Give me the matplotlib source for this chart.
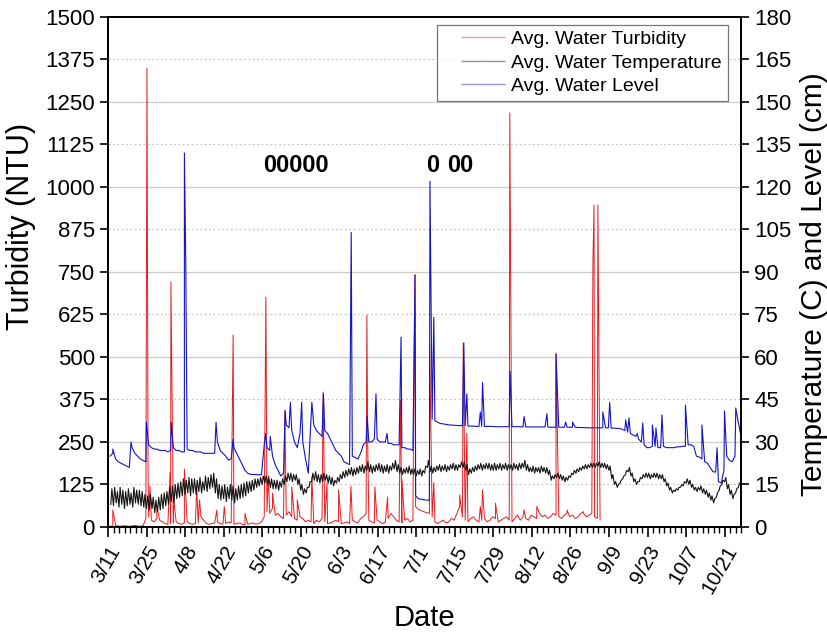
import numpy as np
import pandas as pd
import matplotlib
matplotlib.use("Agg")
import matplotlib.pyplot as plt
from matplotlib.lines import Line2D
from matplotlib.ticker import MultipleLocator

plt.rcParams['font.family'] = ['Liberation Sans', 'DejaVu Sans']

axis_start = pd.Timestamp('2019-03-11')
obs_start = pd.Timestamp('2019-03-11 18:00')
tick_labels = ['3/11', '3/25', '4/8', '4/22', '5/6', '5/20', '6/3', '6/17', '7/1',
               '7/15', '7/29', '8/12', '8/26', '9/9', '9/23', '10/7', '10/21']

# daily water level (cm), one value per day
level_base = [
    25, 26, 24, 23, 22.5, 22, 21.5, 21, 28, 26,
    25, 24, 23.5, 23, 29, 28, 27.5, 27.5, 27, 27,
    27, 26.5, 27, 28, 27, 27, 26.5, 26.5, 27.5, 27,
    27, 26.5, 26.5, 26.5, 26, 26, 26, 26, 26, 30,
    27, 26, 25, 23.6, 24, 28, 26, 24, 22, 20,
    19, 18.6, 18.5, 18.5, 18.4, 18.5, 29, 28, 27, 25,
    22, 20, 18, 19, 36, 35, 34, 30, 28, 33,
    30, 24, 19, 38, 36, 34, 33, 32, 34, 33,
    31, 29, 27, 26, 25, 23, 22.5, 22, 25, 24.5,
    24, 26, 29, 30, 30, 30, 31, 31, 30, 30,
    30, 29.5, 29.5, 29, 29, 29, 28, 28, 27.5, 27.5,
    27, 11, 10, 9.8, 9.6, 9.5, 9.4, 38, 37.5, 37,
    36.5, 36.4, 36.2, 36, 36, 35.9, 35.8, 35.8, 35.7, 35.7,
    35.6, 35.6, 35.6, 35.5, 35.5, 35.5, 35.5, 35.5, 35.5, 35.5,
    35.4, 35.4, 35.4, 35.4, 35.4, 35.4, 35.4, 35.4, 35.4, 35.4,
    35.3, 35.3, 35.3, 35.3, 35.3, 35.3, 35.3, 35.3, 35.3, 35.3,
    35.2, 35.2, 35.2, 35.2, 35.2, 35.2, 35.2, 35.2, 35.2, 35.2,
    35.1, 35.1, 35.1, 35, 35, 35, 35, 35, 35, 35,
    35, 35, 34.9, 34.9, 34.8, 34.8, 34.5, 34, 33.5, 33,
    32.5, 32, 31, 30, 29, 28, 28, 28.5, 28.5, 28,
    28, 28.5, 28, 28, 28, 28, 28.3, 28.3, 28.5, 28.5,
    29, 29, 28.5, 25, 24.7, 24, 23, 22.5, 21, 19.5,
    19.4, 16, 15.5, 20, 25, 23.5, 23, 25, 38, 33,
]
level_spike_day = [1.0, 7.6, 13.2, 22.2, 27.0, 27.5, 38.5, 44.7, 56.5, 58.2,
                   63.6, 65.5, 69.6, 73.3, 77.5, 87.6, 93.4, 96.6, 100.6, 105.7,
                   110.8, 116.2, 117.6, 128.5, 129.6, 134.5, 135.3, 145.3, 150.4, 158.7,
                   162.0, 165.5, 168.0, 179.0, 181.5, 187.3, 188.5, 191.5, 193.5, 197.0,
                   198.3, 200.5, 209.0, 215.0, 220.5, 223.2, 227.3]
level_spike_val = [27.5, 30, 37, 37, 132, 93, 37, 31, 33, 32,
                   41, 44, 44, 44, 47, 104, 39, 47, 33, 67,
                   89, 122, 74, 65, 47, 40.6, 51, 55, 39, 40,
                   61, 37, 37, 40.6, 44, 37.8, 38.5, 33, 36.7, 36,
                   35, 39.5, 43, 36, 28, 41, 42]

# daily low / high water temperature (C)
temp_lo = [
    8, 7.5, 8.5, 7, 8, 6.5, 7.5, 8, 7, 8.5,
    8, 7.5, 7, 6.5, 6, 6.5, 5, 5.5, 6, 6.5,
    7.5, 8, 9, 8.5, 10, 10.5, 11, 11.5, 12, 11,
    12, 11.5, 12.5, 12, 13, 12.5, 13.5, 14, 12, 10,
    9.5, 10, 9, 10, 9.5, 8.5, 9.5, 10, 10.5, 11,
    12, 12.5, 13, 14, 14.5, 15, 15.5, 15, 14, 13.5,
    13.5, 13, 14, 15, 16, 16.5, 16, 16.5, 15, 13,
    11.5, 12, 14, 16, 16.5, 16, 15.5, 16, 16.5, 15.5,
    15, 14.5, 15.5, 16, 17, 17.5, 18, 18.5, 18, 18.5,
    19, 19.5, 19, 20, 19.5, 19, 19.5, 20, 19.5, 19,
    19.5, 19, 20, 20.5, 19.5, 19, 18.5, 19, 19, 18.5,
    18.5, 18, 18.5, 18, 19, 21, 19.5, 19, 19.5, 20,
    19.5, 20, 19.5, 20, 20.5, 20, 20, 21, 21, 20,
    18.5, 19, 19.5, 20, 20.5, 20, 20.5, 20.5, 20, 20,
    20, 20.5, 20, 20.5, 20, 20.5, 20, 20.5, 20, 20.5,
    21, 20, 19.5, 19.5, 19, 19.5, 19, 19.5, 19, 18.5,
    16.5, 17, 17.5, 17, 16.5, 16, 16.5, 17.5, 18.5, 19,
    19.5, 20, 20.5, 20.5, 21, 21, 21, 21.5, 21, 21,
    20.5, 20, 17, 15, 14, 15.5, 17, 18.5, 19.5, 18,
    16, 15, 16, 17, 17.5, 17.5, 17, 17.5, 17.5, 17,
    17, 16, 14.5, 13, 12, 12.5, 13, 14, 14.5, 15.5,
    15, 14, 13, 12.5, 13, 12, 11.5, 10.5, 9.5, 8.5,
    10.5, 13, 15, 16, 13.5, 11.5, 10, 12, 14, 15,
]
temp_hi = [
    13.5, 14, 12.5, 14, 13, 12.5, 13.5, 12, 14, 13,
    13, 12.5, 11.5, 11, 11.5, 10.5, 9.5, 10.5, 11.5, 12,
    12.5, 14, 14.5, 15, 15.5, 16, 17, 16.5, 17.5, 17,
    17, 16.5, 17.5, 16, 18, 17.5, 18.5, 19, 17, 15,
    14.5, 15, 14, 15, 14.5, 13.5, 14.5, 15, 15.5, 16,
    16, 16.5, 17, 17, 17.5, 18, 18, 17.5, 17, 16.5,
    16.5, 16, 17, 18, 19, 19, 18.5, 18.5, 17, 15,
    13.5, 14, 16, 19, 19.5, 18.5, 18.5, 19, 18.5, 18,
    17.5, 16.5, 17.5, 18.5, 19.5, 20, 20.5, 21, 20.5, 21,
    21.5, 22, 21.5, 23, 22, 21.5, 22, 22.5, 22, 21.5,
    22, 21.5, 22.5, 23.5, 22, 21, 20.5, 21, 21.5, 20.5,
    20.5, 20, 20.5, 20, 21.5, 23.5, 21.5, 21, 21.5, 22,
    21.5, 22, 21.5, 22, 22.5, 22, 22, 23, 23, 22,
    20.5, 21, 21.5, 22, 22.5, 22, 22.5, 22.5, 22, 22.5,
    22, 22.5, 22, 22.5, 22, 22, 22.5, 22, 22.5, 22.5,
    23.5, 22, 21, 21.5, 21, 21, 21.5, 21, 21, 20,
    18, 18.5, 19, 18.5, 18, 17.5, 18, 19, 20, 20.5,
    21, 21.5, 22, 22, 22.5, 22.5, 22.5, 23, 22.5, 22.5,
    22, 21.5, 18.5, 16, 15, 16.5, 18, 20, 21, 19,
    17, 16, 17.5, 18.5, 19, 19, 18.5, 19, 19, 18.5,
    18.5, 17, 15.5, 14, 13, 13.5, 14, 15, 16, 17,
    16.5, 15, 14, 14, 14.5, 13.5, 13, 12, 11, 10,
    12, 14.5, 16.5, 17.5, 15, 13, 11.5, 13.5, 15.5, 16,
]

# daily turbidity background (NTU) until the sensor stopped
turb_base = [
    3, 2, 5, 3, 2, 4, 3, 2, 3, 5, 3, 2, 4,
    25, 30, 20, 15, 25, 20, 15,
    10, 8, 10, 12, 15, 10, 8, 12, 15, 10,
    8, 10, 12, 30, 20, 10, 8, 10, 12, 15,
    10, 8, 10, 15, 12, 8, 10, 12, 8, 6,
    8, 10, 12, 8, 10, 15, 30, 45, 40, 55,
    35, 40, 30, 25, 35, 45, 30, 25, 20, 30,
    25, 15, 20, 15, 10, 20, 15, 25, 15, 10,
    12, 15, 20, 15, 10, 12, 15, 10, 20, 15,
    12, 25, 30, 40, 20, 15, 12, 20, 15, 10,
    15, 25, 40, 30, 20, 15, 12, 20, 25, 15, 20,
    60, 52, 48, 45, 42,
    40, 30, 15, 10,
    15, 20, 12, 15, 25, 20, 40, 60, 30, 20,
    15, 25, 30, 20, 15, 20, 25, 15, 20, 30,
    25, 15, 20, 25, 30, 20, 15, 25, 35, 20,
    30, 25, 20, 35, 30, 25, 40, 30, 35, 25,
    30, 40, 35, 30, 25, 35, 40, 30, 35, 25,
    30, 40, 45, 30, 35, 40, 30, 25, 20,
]
turb_spike_day = [1.0, 13.4, 13.8, 14.5, 17.0, 21.8, 22.1, 23.0, 27.0, 31.5,
                  32.5, 38.8, 41.5, 44.7, 49.0, 56.6, 57.5, 59.0, 63.5, 66.0,
                  68.0, 73.3, 77.4, 78.8, 83.0, 87.5, 93.3, 93.6, 96.2, 100.8,
                  105.5, 106.0, 110.7, 116.1, 117.6, 127.0, 128.3, 129.6, 134.5, 135.3,
                  140.0, 145.2, 150.4, 155.0, 162.0, 166.0, 172.0, 175.4, 175.8, 177.2]
turb_spike_val = [50, 1350, 160, 120, 60, 160, 720, 90, 170, 118,
                  80, 50, 60, 565, 40, 676, 150, 100, 344, 118,
                  80, 147, 397, 130, 109, 120, 623, 235, 118, 88,
                  373, 140, 741, 535, 130, 94, 540, 276, 60, 109,
                  70, 1218, 50, 60, 512, 50, 40, 776, 947, 947]


def merge(base, spike_day, spike_val):
    d = np.concatenate([np.arange(len(base)), spike_day])
    v = np.concatenate([base, spike_val])
    order = np.argsort(d, kind='stable')
    return obs_start + pd.to_timedelta(d[order], unit='D'), v[order]


lev_t, lev_v = merge(level_base, level_spike_day, level_spike_val)
turb_t, turb_v = merge(turb_base, turb_spike_day, turb_spike_val)

days = np.arange(len(temp_lo))
temp_d = np.column_stack([days + 0.25, days + 0.65]).ravel()
temp_v = np.column_stack([temp_lo, temp_hi]).ravel()
temp_t = obs_start + pd.to_timedelta(temp_d, unit='D')

red, blue, black = '#ea1a1f', '#1414c8', '#151515'

fig = plt.figure(figsize=(8.27, 6.34), dpi=100)
ax = fig.add_axes([0.1306, 0.1688, 0.7656, 0.8044])
ax2 = ax.twinx()

ax.plot(turb_t, turb_v, color=red, lw=0.7, zorder=3)
ax2.plot(temp_t, temp_v, color=black, lw=0.8)
ax2.plot(lev_t, lev_v, color=blue, lw=0.8)

ax.set_ylim(0, 1500)
ax2.set_ylim(0, 180)
ax.set_xlim(axis_start, axis_start + pd.Timedelta(days=230))

ax.yaxis.set_major_locator(MultipleLocator(125))
ax2.yaxis.set_major_locator(MultipleLocator(15))
for v in range(250, 1500, 250):
    ax.axhline(v, color='#cccccc', lw=0.9, zorder=0)
for v in range(125, 1500, 250):
    ax.axhline(v, color='#c8c8c8', lw=0.9, ls=(0, (1.5, 2)), zorder=0)

major = pd.date_range(axis_start, periods=len(tick_labels), freq='14D')
ax.set_xticks(major)
ax.set_xticklabels(tick_labels, rotation=60, ha='right', rotation_mode='anchor')
ax.set_xticks(pd.date_range(axis_start, axis_start + pd.Timedelta(days=230), freq='2D'),
              minor=True)

ax.tick_params(axis='y', labelsize=16, direction='out', length=6, width=1.2)
ax2.tick_params(axis='y', labelsize=16, direction='out', length=6, width=1.2)
ax.tick_params(axis='x', labelsize=15, direction='out', length=7, width=1.2, pad=4)
ax.tick_params(axis='x', which='minor', direction='out', length=4, width=1)
for a in (ax, ax2):
    for s in a.spines.values():
        s.set_linewidth(1.3)

ax.set_ylabel('Turbidity (NTU)', fontsize=22)
ax.yaxis.set_label_coords(-0.113, 0.59)
ax2.set_ylabel('Temperature (C) and Level (cm)', fontsize=21.5)
ax2.yaxis.set_label_coords(1.093, 0.476)
ax.set_xlabel('Date', fontsize=21, labelpad=5)

# marker annotations
ax.text(axis_start + pd.Timedelta(days=68.4), 1062, '00000', fontsize=17, fontweight='bold',
        ha='center', va='center')
ax.text(axis_start + pd.Timedelta(days=117.8), 1062, '0', fontsize=17, fontweight='bold',
        ha='center', va='center')
ax.text(axis_start + pd.Timedelta(days=128.0), 1062, '00', fontsize=17, fontweight='bold',
        ha='center', va='center')

gap_dash = (31.7, (31.7, 13.7))
handles = [Line2D([], [], color=red, lw=1, alpha=0.45, ls=gap_dash),
           Line2D([], [], color=black, lw=1, alpha=0.45, ls=gap_dash),
           Line2D([], [], color=blue, lw=1, alpha=0.45, ls=gap_dash)]
leg = ax2.legend(handles, ['Avg. Water Turbidity', 'Avg. Water Temperature', 'Avg. Water Level'],
                 loc='upper right', bbox_to_anchor=(0.979, 0.985), fontsize=14,
                 frameon=True, fancybox=False, handlelength=3.25, handletextpad=0.3,
                 borderpad=0.3, labelspacing=0.3, borderaxespad=0)
leg.get_frame().set_edgecolor('#555555')
leg.get_frame().set_linewidth(0.9)

fig.savefig('out.png', dpi=100)
